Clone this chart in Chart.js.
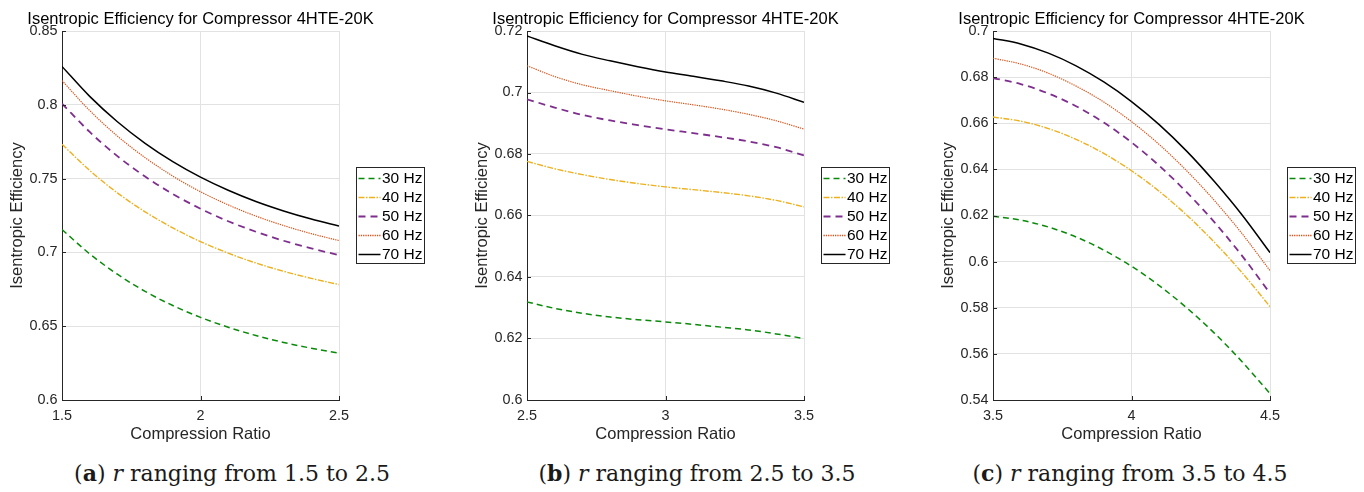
<!DOCTYPE html>
<html><head><meta charset="utf-8">
<script src="https://cdn.jsdelivr.net/npm/chart.js@4.4.1/dist/chart.umd.min.js"></script>
<style>
html,body{margin:0;padding:0;background:#fff;width:1364px;height:492px;overflow:hidden;position:relative}
.pane{position:absolute;top:0;width:440px;height:450px}
.cap{position:absolute;top:462px;line-height:22px;font-family:"DejaVu Serif","Liberation Serif",serif;font-size:22px;color:#1a1a1a;white-space:nowrap;transform:translateX(-50%)}
</style></head><body>
<div class="pane" style="left:0px"><canvas id="ca" width="440" height="450"></canvas></div>
<div class="pane" style="left:465px"><canvas id="cb" width="440" height="450"></canvas></div>
<div class="pane" style="left:931px"><canvas id="cc" width="433" height="450"></canvas></div>
<div class="cap" style="left:232px">(<b>a</b>) <i>r</i> ranging from 1.5 to 2.5</div>
<div class="cap" style="left:697px">(<b>b</b>) <i>r</i> ranging from 2.5 to 3.5</div>
<div class="cap" style="left:1130px">(<b>c</b>) <i>r</i> ranging from 3.5 to 4.5</div>
<script>
// ---------- data ----------
const seriesLabels = ['30 Hz','40 Hz','50 Hz','60 Hz','70 Hz'];
const chartTitle = 'Isentropic Efficiency for Compressor 4HTE-20K';
const xTitle = 'Compression Ratio';
const yTitle = 'Isentropic Efficiency';

const rA = [1.5,1.6,1.7,1.8,1.9,2.0,2.1,2.2,2.3,2.4,2.5];
const effA30 = [0.7155,0.6990,0.6852,0.6736,0.6640,0.6560,0.6493,0.6437,0.6390,0.6351,0.6318];
const effA40 = [0.7733,0.7555,0.7403,0.7275,0.7166,0.7073,0.6995,0.6928,0.6872,0.6824,0.6782];
const effA50 = [0.8008,0.7816,0.7652,0.7514,0.7396,0.7296,0.7211,0.7140,0.7079,0.7027,0.6982];
const effA60 = [0.8164,0.7961,0.7788,0.7642,0.7517,0.7411,0.7322,0.7246,0.7182,0.7127,0.7080];
const effA70 = [0.8260,0.8057,0.7885,0.7739,0.7615,0.7510,0.7421,0.7345,0.7281,0.7226,0.7179];
const xTicksA = [1.5,2,2.5];
const yTicksA = [0.6,0.65,0.7,0.75,0.8,0.85];

const rB = [2.5,2.6,2.7,2.8,2.9,3.0,3.1,3.2,3.3,3.4,3.5];
const effB30 = [0.6319,0.6298,0.6282,0.6270,0.6261,0.6254,0.6246,0.6237,0.6228,0.6215,0.6200];
const effB40 = [0.6776,0.6752,0.6733,0.6717,0.6704,0.6693,0.6684,0.6675,0.6664,0.6649,0.6628];
const effB50 = [0.6978,0.6951,0.6927,0.6909,0.6894,0.6880,0.6868,0.6855,0.6841,0.6822,0.6795];
const effB60 = [0.7087,0.7052,0.7025,0.7006,0.6988,0.6973,0.6960,0.6946,0.6929,0.6908,0.6881];
const effB70 = [0.7184,0.7152,0.7124,0.7103,0.7084,0.7067,0.7053,0.7038,0.7021,0.6998,0.6968];
const xTicksB = [2.5,3,3.5];
const yTicksB = [0.6,0.62,0.64,0.66,0.68,0.7,0.72];

const rC = [3.5,3.6,3.7,3.8,3.9,4.0,4.1,4.2,4.3,4.4,4.5];
const effC30 = [0.6197,0.6180,0.6150,0.6107,0.6050,0.5980,0.5896,0.5799,0.5689,0.5565,0.5428];
const effC40 = [0.6627,0.6609,0.6577,0.6530,0.6469,0.6394,0.6305,0.6201,0.6083,0.5951,0.5805];
const effC50 = [0.6796,0.6770,0.6729,0.6674,0.6603,0.6517,0.6416,0.6300,0.6170,0.6024,0.5863];
const effC60 = [0.6882,0.6857,0.6817,0.6761,0.6692,0.6607,0.6508,0.6393,0.6264,0.6120,0.5961];
const effC70 = [0.6968,0.6944,0.6904,0.6849,0.6779,0.6694,0.6594,0.6478,0.6346,0.6201,0.6039];
const xTicksC = [3.5,4,4.5];
const yTicksC = [0.54,0.56,0.58,0.6,0.62,0.64,0.66,0.68,0.7];

// ---------- styles ----------
const styles = [
  {color:'#0a8a0a', dash:[6,4], width:1.5},
  {color:'#EDB120', dash:[6,1.5,1.5,1.5], width:1.4},
  {color:'#7E2F8E', dash:[7,5], width:1.8},
  {color:'#D95319', dash:[1.3,1], width:1.2},
  {color:'#000000', dash:[], width:1.5}
];
const FONT = '"Liberation Sans", Arial, Helvetica, sans-serif';
Chart.defaults.font.family = FONT;
const AXC = '#262626';

const decor = {
  id:'decor',
  afterDraw(chart, args, opts){
    const ctx = chart.ctx, a = chart.chartArea;
    const xs = chart.scales.x, ys = chart.scales.y;
    ctx.save();
    // inward ticks
    ctx.strokeStyle = AXC; ctx.lineWidth = 1; ctx.setLineDash([]);
    ctx.beginPath();
    opts.xTicks.forEach(v => { const px = Math.round(xs.getPixelForValue(v)) + 0.5; ctx.moveTo(px, a.bottom); ctx.lineTo(px, a.bottom - 4); });
    opts.yTicks.forEach(v => { const py = Math.round(ys.getPixelForValue(v)) + 0.5; ctx.moveTo(a.left, py); ctx.lineTo(a.left + 4, py); });
    ctx.stroke();
    // title
    ctx.fillStyle = '#000'; ctx.font = '16.5px ' + FONT; ctx.textAlign = 'center'; ctx.textBaseline = 'alphabetic';
    ctx.fillText(chartTitle, (a.left + a.right) / 2, 24);
    // legend
    const bx = Math.round(a.right + 17) + 0.5, by = 167.5, bw = 68, bh = 96;
    ctx.fillStyle = '#fff'; ctx.fillRect(bx, by, bw, bh);
    ctx.strokeStyle = '#262626'; ctx.lineWidth = 1; ctx.strokeRect(bx, by, bw, bh);
    chart.data.datasets.forEach((ds, i) => {
      const y = 178.5 + i * 19;
      ctx.strokeStyle = ds.borderColor; ctx.lineWidth = Math.max(1.4, ds.borderWidth); ctx.setLineDash(ds.borderDash || []);
      ctx.beginPath(); ctx.moveTo(bx + 2, y); ctx.lineTo(bx + 24, y); ctx.stroke();
      ctx.setLineDash([]);
      ctx.fillStyle = '#000'; ctx.font = '15.5px ' + FONT; ctx.textAlign = 'left'; ctx.textBaseline = 'middle';
      ctx.fillText(ds.label, bx + 25.5, y + 0.5);
    });
    ctx.restore();
  }
};

function makePanel(id, xs, ys, xTicks, yTicks){
  const datasets = ys.map((arr, i) => ({
    label: seriesLabels[i],
    data: arr.map((v, k) => ({x: xs[k], y: v})),
    borderColor: styles[i].color,
    borderWidth: styles[i].width,
    borderDash: styles[i].dash,
    pointRadius: 0,
    fill: false,
    cubicInterpolationMode: 'monotone'
  }));
  new Chart(document.getElementById(id), {
    type: 'line',
    data: {datasets},
    plugins: [decor],
    options: {
      responsive: false, animation: false, devicePixelRatio: 1,
      layout: {padding: {left: 0, top: 31, right: document.getElementById(id).width - 62 - 277, bottom: 0}},
      plugins: {legend: {display: false}, title: {display: false}, tooltip: {enabled: false}, decor: {xTicks, yTicks}},
      scales: {
        x: {
          type: 'linear', min: xTicks[0], max: xTicks[xTicks.length - 1],
          afterBuildTicks: s => { s.ticks = xTicks.map(v => ({value: v})); },
          afterFit: s => { s.height = 50; },
          ticks: {callback: v => String(v), padding: 7, color: AXC, font: {size: 14.4}, maxRotation: 0, autoSkip: false},
          grid: {color: '#e2e2e2', lineWidth: 1, drawTicks: false},
          border: {display: true, color: AXC, width: 1},
          title: {display: true, text: xTitle, color: AXC, font: {size: 16.5}, padding: {top: 0, bottom: 5.6}}
        },
        y: {
          type: 'linear', min: yTicks[0], max: yTicks[yTicks.length - 1],
          afterBuildTicks: s => { s.ticks = yTicks.map(v => ({value: v})); },
          afterFit: s => { s.width = 62; },
          ticks: {callback: v => String(v), padding: 4.5, color: AXC, font: {size: 14.4}, autoSkip: false},
          grid: {color: '#e2e2e2', lineWidth: 1, drawTicks: false},
          border: {display: true, color: AXC, width: 1},
          title: {display: true, text: yTitle, color: AXC, font: {size: 16.5}, padding: {top: 7.6, bottom: 0}}
        }
      }
    }
  });
}

makePanel('ca', rA, [effA30, effA40, effA50, effA60, effA70], xTicksA, yTicksA);
makePanel('cb', rB, [effB30, effB40, effB50, effB60, effB70], xTicksB, yTicksB);
makePanel('cc', rC, [effC30, effC40, effC50, effC60, effC70], xTicksC, yTicksC);
</script>
</body></html>
